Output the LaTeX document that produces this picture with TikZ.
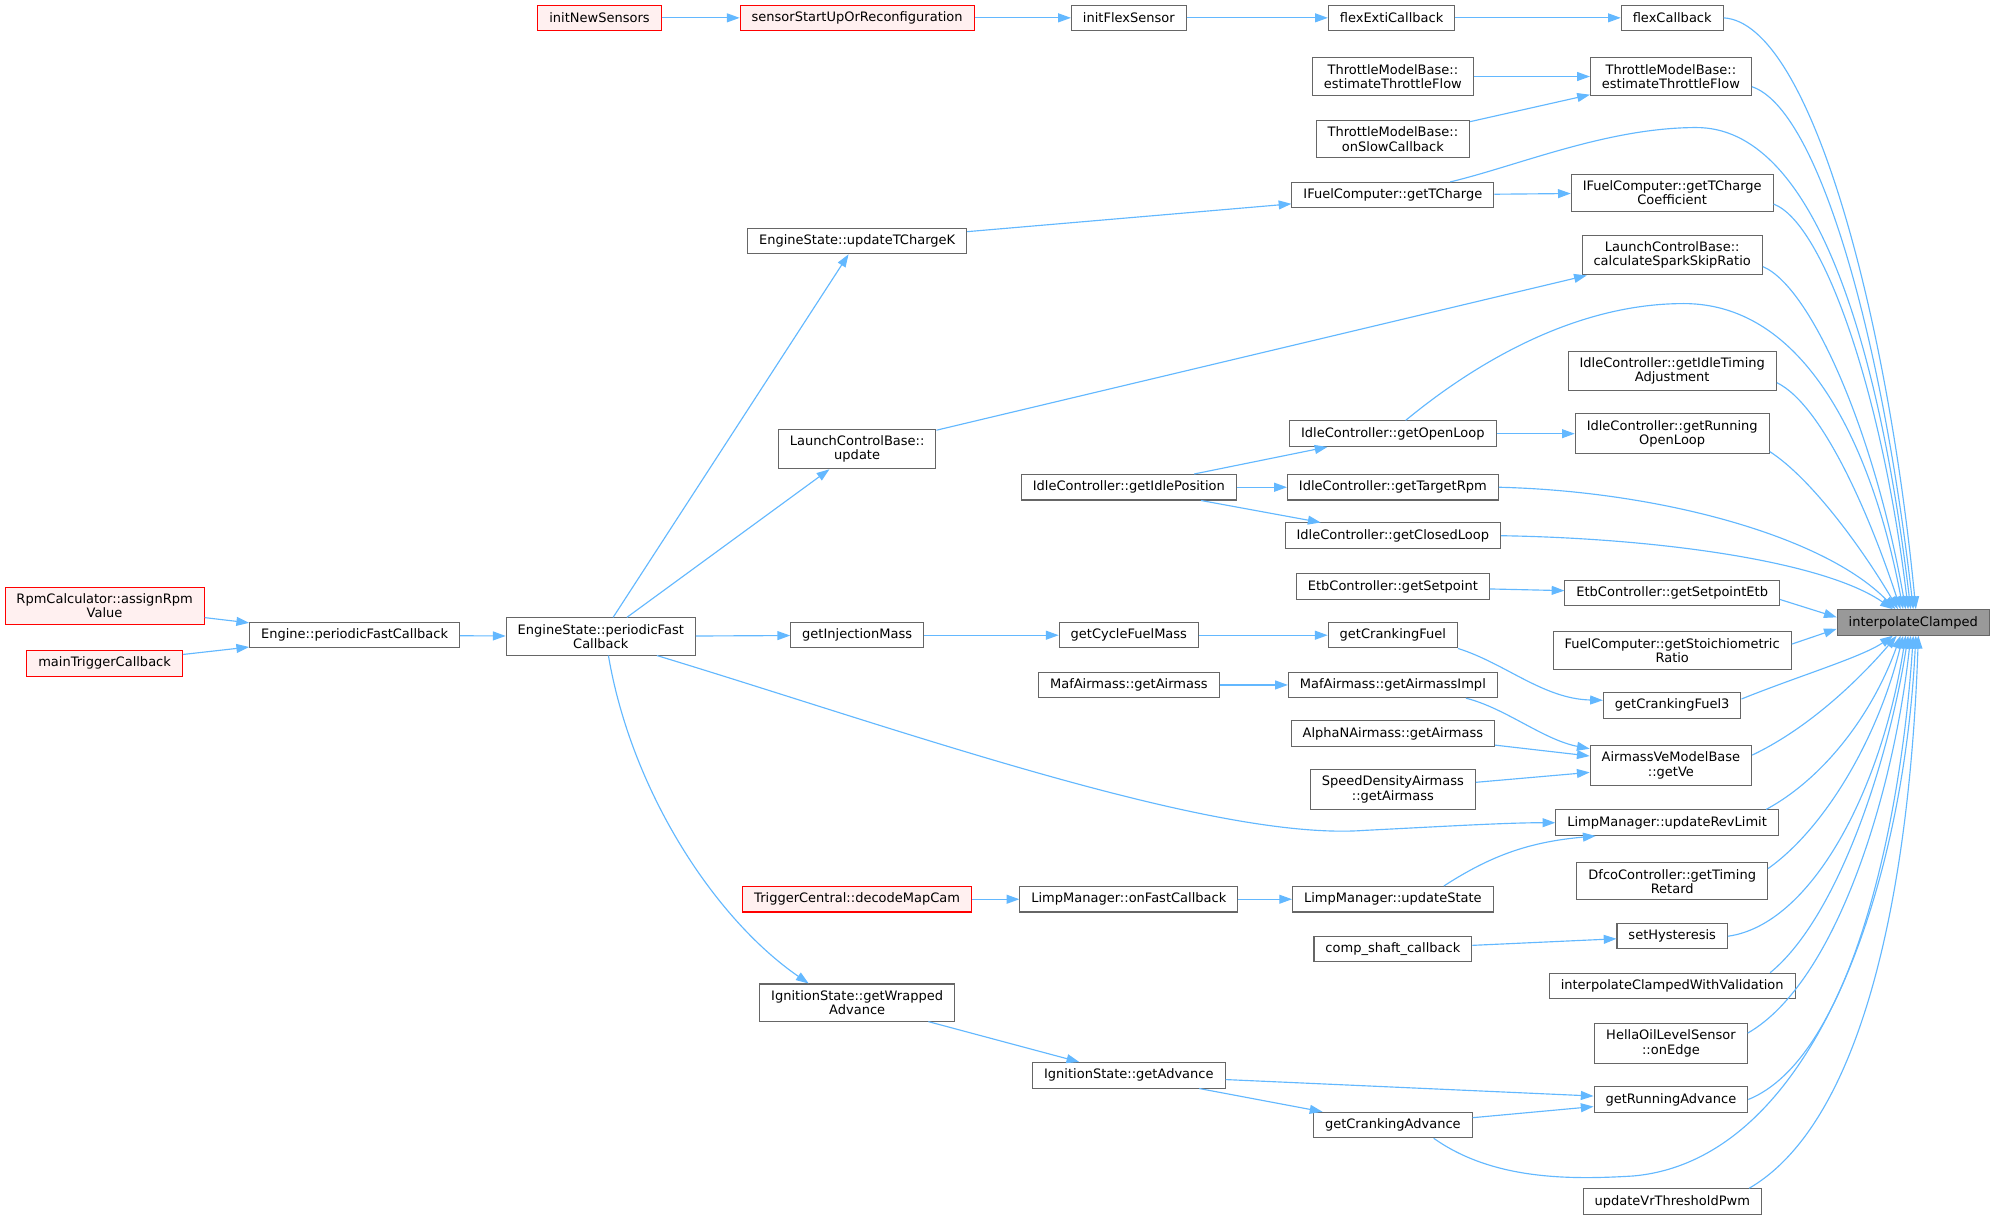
\documentclass[tikz,border=0pt]{standalone}
\usepackage{fontspec}
\setmainfont{DejaVu Sans}
\usetikzlibrary{arrows.meta}
\definecolor{edgeblue}{HTML}{63B8FF}
\definecolor{boxgray}{HTML}{666666}
\definecolor{redfill}{HTML}{FFF0F0}
\definecolor{hitgray}{HTML}{999999}
\begin{document}
\begin{tikzpicture}[x=1pt,y=-1pt,
        fn/.style={draw=boxgray,line width=0.8pt,fill=white,inner xsep=9pt,inner ysep=5pt,
            minimum height=20pt,align=center,font=\fontsize{10.2}{11.2}\selectfont},
        fnred/.style={fn,draw=red,fill=redfill},
        fnhit/.style={fn,fill=hitgray},
        call/.style={draw=edgeblue,line width=0.9pt,-{Triangle[length=10pt,width=7pt]}}]
        \useasboundingbox (0,0) rectangle (1568,957.2);

        \node[fnred] (rpmAssign) at (82,475) {RpmCalculator::assignRpm\\Value};
        \node[fnred] (mainTrig) at (82,520) {mainTriggerCallback};
        \node[fn] (enginePfc) at (278,498) {Engine::periodicFastCallback};
        \node[fn] (statePfc) at (471,499) {EngineState::periodicFast\\Callback};

        \node[fnred] (initNew) at (470,14) {initNewSensors};
        \node[fnred] (sensorStart) at (672,14) {sensorStartUpOrReconfiguration};
        \node[fn] (updTCharge) at (672,189) {EngineState::updateTChargeK};
        \node[fn] (launchUpd) at (672,352) {LaunchControlBase::\\update};
        \node[fn] (injMass) at (672,498) {getInjectionMass};
        \node[fnred] (decodeCam) at (672,705) {TriggerCentral::decodeMapCam};
        \node[fn] (wrappedAdv) at (672,786) {IgnitionState::getWrapped\\Advance};

        \node[fn] (initFlex) at (885,14) {initFlexSensor};
        \node[fn] (idlePos) at (885,382) {IdleController::getIdlePosition};
        \node[fn] (cycleFuel) at (885,498) {getCycleFuelMass};
        \node[fn] (mafAir) at (885,537) {MafAirmass::getAirmass};
        \node[fn] (limpFast) at (885,705) {LimpManager::onFastCallback};
        \node[fn] (getAdv) at (885,843) {IgnitionState::getAdvance};

        \node[fn] (flexExti) at (1091,14) {flexExtiCallback};
        \node[fn] (throttleEstL) at (1092,60) {ThrottleModelBase::\\estimateThrottleFlow};
        \node[fn] (throttleSlow) at (1092,109) {ThrottleModelBase::\\onSlowCallback};
        \node[fn] (tCharge) at (1092,153) {IFuelComputer::getTCharge};
        \node[fn] (openLoop) at (1092,340) {IdleController::getOpenLoop};
        \node[fn] (targetRpm) at (1092,382) {IdleController::getTargetRpm};
        \node[fn] (closedLoop) at (1092,420) {IdleController::getClosedLoop};
        \node[fn] (etbSet) at (1092,460) {EtbController::getSetpoint};
        \node[fn] (crankFuel) at (1092,498) {getCrankingFuel};
        \node[fn] (mafImpl) at (1092,537) {MafAirmass::getAirmassImpl};
        \node[fn] (alphaN) at (1092,575) {AlphaNAirmass::getAirmass};
        \node[fn] (speedDens) at (1092,619) {SpeedDensityAirmass\\::getAirmass};
        \node[fn] (limpState) at (1092,705) {LimpManager::updateState};
        \node[fn] (compShaft) at (1092,744) {comp\_shaft\_callback};
        \node[fn] (crankAdv) at (1092,882) {getCrankingAdvance};

        \node[fn] (flexCb) at (1311,14) {flexCallback};
        \node[fn] (throttleEstR) at (1310,60) {ThrottleModelBase::\\estimateThrottleFlow};
        \node[fn] (tChargeCoef) at (1311,151) {IFuelComputer::getTCharge\\Coefficient};
        \node[fn] (sparkSkip) at (1311,200) {LaunchControlBase::\\calculateSparkSkipRatio};
        \node[fn] (idleTiming) at (1311,291) {IdleController::getIdleTiming\\Adjustment};
        \node[fn] (runOpen) at (1311,340) {IdleController::getRunning\\OpenLoop};
        \node[fn] (etbSetEtb) at (1311,465) {EtbController::getSetpointEtb};
        \node[fn] (stoich) at (1311,510) {FuelComputer::getStoichiometric\\Ratio};
        \node[fn] (crankFuel3) at (1311,553) {getCrankingFuel3};
        \node[fn] (getVe) at (1310,600) {AirmassVeModelBase\\::getVe};
        \node[fn] (revLimit) at (1307,645) {LimpManager::updateRevLimit};
        \node[fn] (timingRetard) at (1311,691) {DfcoController::getTiming\\Retard};
        \node[fn] (hyst) at (1311,734) {setHysteresis};
        \node[fn] (withValid) at (1311,773) {interpolateClampedWithValidation};
        \node[fn] (hella) at (1310,818) {HellaOilLevelSensor\\::onEdge};
        \node[fn] (runAdv) at (1310,862) {getRunningAdvance};
        \node[fn] (vrPwm) at (1311,942) {updateVrThresholdPwm};

        \node[fnhit] (interp) at (1500,488) {interpolateClamped};

        \draw[call] (rpmAssign) -- (enginePfc);
        \draw[call] (mainTrig) -- (enginePfc);
        \draw[call] (enginePfc) -- (statePfc);
        \draw[call] (initNew) -- (sensorStart);
        \draw[call] (sensorStart) -- (initFlex);
        \draw[call] (initFlex) -- (flexExti);
        \draw[call] (flexExti) -- (flexCb);
        \draw[call] (throttleEstL) -- (throttleEstR);
        \draw[call] (throttleSlow) -- (throttleEstR);
        \draw[call] (statePfc) -- (updTCharge);
        \draw[call] (updTCharge) -- (tCharge);
        \draw[call] (tCharge) -- (tChargeCoef);
        \draw[call] (statePfc) -- (launchUpd);
        \draw[call] (launchUpd) -- (sparkSkip);
        \draw[call] (idlePos) -- (openLoop);
        \draw[call] (idlePos) -- (targetRpm);
        \draw[call] (idlePos) -- (closedLoop);
        \draw[call] (openLoop) -- (runOpen);
        \draw[call] (etbSet) -- (etbSetEtb);
        \draw[call] (statePfc) -- (injMass);
        \draw[call] (injMass) -- (cycleFuel);
        \draw[call] (cycleFuel) -- (crankFuel);
        \draw[call] (crankFuel.south east) .. controls (1180,520) and (1210,548) .. ([yshift=4pt]crankFuel3.west);
        \draw[call] (mafAir) -- (mafImpl);
        \draw[call] ([xshift=-25pt]mafImpl.south east) .. controls (1180,555) and (1210,580) .. ([yshift=13pt]getVe.west);
        \draw[call] (alphaN) -- (getVe);
        \draw[call] (speedDens) -- (getVe);
        \draw[call] ([xshift=44pt]statePfc.south) .. controls (700,570) and (950,660) .. (1070,651)
            .. controls (1130,648) and (1180,645) .. (revLimit.west);
        \draw[call] (decodeCam) -- (limpFast);
        \draw[call] (limpFast) -- (limpState);
        \draw[call] ([xshift=40pt]limpState.north) .. controls (1170,670) and (1200,660) .. ([xshift=-56pt]revLimit.south);
        \draw[call] (compShaft) -- (hyst);
        \draw[call] ([xshift=6pt]statePfc.south) .. controls (495,620) and (560,720) .. ([xshift=-38pt]wrappedAdv.north);
        \draw[call] (wrappedAdv) -- (getAdv);
        \draw[call] (getAdv) -- (runAdv);
        \draw[call] (getAdv) -- (crankAdv);
        \draw[call] (crankAdv) -- (runAdv);

        \draw[call] (flexCb.east) .. controls (1420,18) and (1480,250) .. ([xshift=2pt]interp.north);
        \draw[call] ([yshift=-8pt]throttleEstR.east) .. controls (1425,85) and (1475,260) .. (interp.north);
        \draw[call] ([xshift=45pt]tCharge.north) .. controls (1190,130) and (1260,100) .. (1330,100)
            .. controls (1420,100) and (1472,260) .. ([xshift=-2pt]interp.north);
        \draw[call] ([yshift=-9pt]tChargeCoef.east) .. controls (1430,175) and (1476,310) .. ([xshift=-4pt]interp.north);
        \draw[call] ([yshift=-9pt]sparkSkip.east) .. controls (1420,225) and (1470,340) .. ([xshift=-6pt]interp.north);
        \draw[call] ([xshift=10pt]openLoop.north) .. controls (1150,290) and (1230,238) .. (1320,238)
            .. controls (1420,238) and (1470,360) .. ([xshift=-8pt]interp.north);
        \draw[call] ([yshift=-9pt]idleTiming.east) .. controls (1430,318) and (1468,410) .. ([xshift=-10pt]interp.north);
        \draw[call] ([yshift=-14pt]runOpen.east) .. controls (1420,375) and (1460,430) .. ([xshift=-12pt]interp.north);
        \draw[call] (targetRpm.east) .. controls (1300,385) and (1430,420) .. ([xshift=-14pt]interp.north);
        \draw[call] (closedLoop.east) .. controls (1300,422) and (1430,440) .. ([xshift=-16pt]interp.north);
        \draw[call] ([yshift=-5pt]etbSetEtb.east) -- ([yshift=4pt]interp.west);
        \draw[call] ([yshift=5pt]stoich.east) -- ([yshift=-5pt]interp.west);
        \draw[call] ([yshift=5pt]crankFuel3.east) .. controls (1410,530) and (1460,515) .. ([xshift=-16pt]interp.south);
        \draw[call] ([yshift=8pt]getVe.east) .. controls (1420,570) and (1460,530) .. ([xshift=-13pt]interp.south);
        \draw[call] ([xshift=-10pt]revLimit.north east) .. controls (1430,610) and (1468,560) .. ([xshift=-10pt]interp.south);
        \draw[call] ([yshift=10pt]timingRetard.east) .. controls (1430,650) and (1472,580) .. ([xshift=-8pt]interp.south);
        \draw[call] (hyst.east) .. controls (1420,725) and (1475,620) .. ([xshift=-6pt]interp.south);
        \draw[call] ([xshift=-20pt]withValid.north east) .. controls (1440,720) and (1480,600) .. ([xshift=-4pt]interp.south);
        \draw[call] ([yshift=8pt]hella.east) .. controls (1440,770) and (1485,620) .. ([xshift=-2pt]interp.south);
        \draw[call] (runAdv.east) .. controls (1450,830) and (1490,650) .. (interp.south);
        \draw[call] ([xshift=32pt]crankAdv.south) .. controls (1170,925) and (1230,925) .. (1280,922)
            .. controls (1420,910) and (1492,700) .. ([xshift=2pt]interp.south);
        \draw[call] ([xshift=-10pt]vrPwm.north east) .. controls (1460,880) and (1497,700) .. ([xshift=4pt]interp.south);
    \end{tikzpicture}
\end{document}
